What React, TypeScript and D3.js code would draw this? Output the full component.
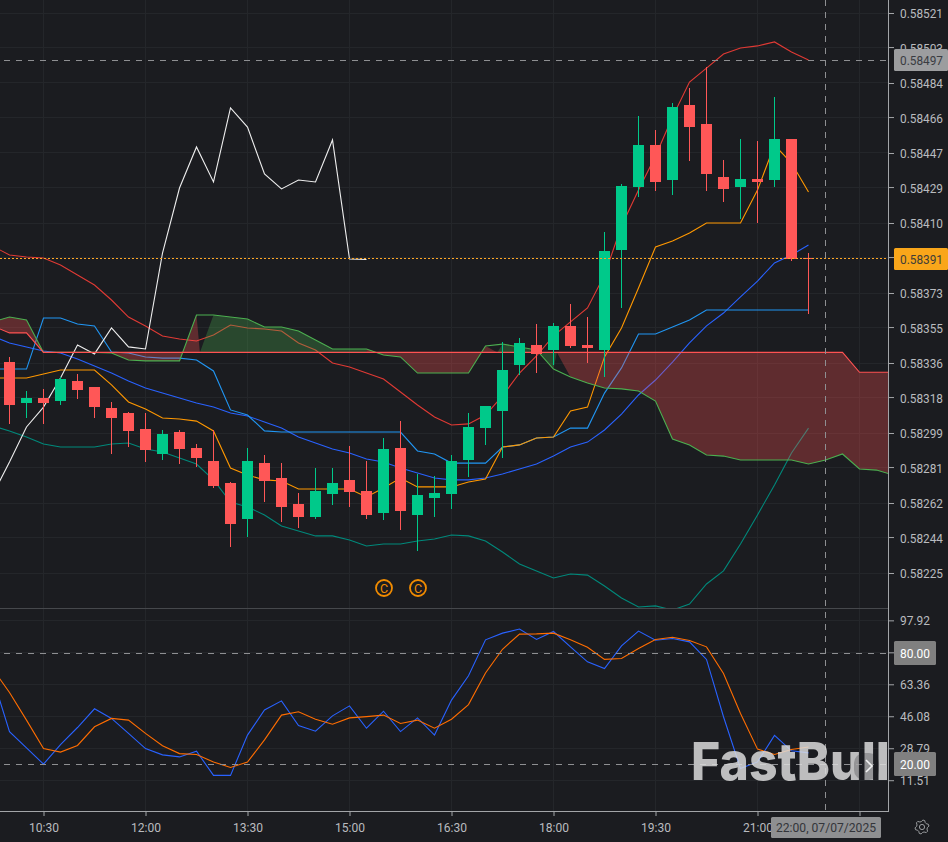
import React, { useEffect, useRef } from 'react';
import * as d3 from 'd3';

// 15 minute bars, 07/07/2025, first bar at 10:00
const opens = [0.583365,0.583149,0.583175,0.583159,0.583265,0.583233,0.583122,0.583096,0.583011,0.582879,0.582995,0.582911,0.582842,0.582726,0.582535,0.582831,0.582752,0.582615,0.582546,0.582668,0.582742,0.582683,0.582567,0.582911,0.582557,0.582646,0.582668,0.582847,0.583016,0.583106,0.583349,0.583455,0.583429,0.583556,0.583455,0.583429,0.583957,0.584290,0.584512,0.584327,0.584724,0.584623,0.584343,0.584290,0.584333,0.584327,0.584544,0.583915];
const highs = [0.583390,0.583210,0.583221,0.583284,0.583302,0.583233,0.583154,0.583101,0.583096,0.583006,0.583006,0.582932,0.583006,0.582731,0.582911,0.582874,0.582831,0.582673,0.582805,0.582805,0.582921,0.582842,0.582964,0.583053,0.582773,0.582763,0.582874,0.583096,0.583133,0.583471,0.583492,0.583566,0.583571,0.583672,0.583603,0.584052,0.584306,0.584666,0.584592,0.584734,0.584814,0.584925,0.584433,0.584544,0.584533,0.584766,0.584544,0.583941];
const lows = [0.583038,0.583069,0.583038,0.583138,0.583170,0.583069,0.582879,0.582916,0.582837,0.582847,0.582826,0.582810,0.582699,0.582387,0.582440,0.582625,0.582520,0.582488,0.582535,0.582609,0.582599,0.582535,0.582530,0.582477,0.582366,0.582546,0.582588,0.582757,0.582927,0.582858,0.583297,0.583307,0.583349,0.583439,0.583360,0.583286,0.583651,0.584237,0.584269,0.584248,0.584428,0.584269,0.584211,0.584121,0.584100,0.584290,0.583899,0.583619];
const closes = [0.583138,0.583175,0.583149,0.583275,0.583217,0.583127,0.583069,0.583001,0.582900,0.582985,0.582905,0.582858,0.582710,0.582509,0.582842,0.582736,0.582599,0.582546,0.582683,0.582726,0.582678,0.582557,0.582905,0.582578,0.582662,0.582673,0.582842,0.583022,0.583133,0.583323,0.583466,0.583408,0.583556,0.583450,0.583439,0.583952,0.584296,0.584512,0.584317,0.584713,0.584607,0.584359,0.584280,0.584333,0.584317,0.584544,0.583910,0.583910];

// overlays, first value is one bar before the first candle
const bbUpper = [0.583978,0.583931,0.583920,0.583915,0.583878,0.583825,0.583772,0.583693,0.583603,0.583556,0.583503,0.583487,0.583476,0.583508,0.583561,0.583545,0.583540,0.583529,0.583466,0.583429,0.583360,0.583339,0.583307,0.583275,0.583207,0.583138,0.583075,0.583032,0.583038,0.583085,0.583186,0.583307,0.583397,0.583503,0.583577,0.583651,0.583825,0.584084,0.584274,0.584454,0.584660,0.584845,0.584919,0.584993,0.585025,0.585036,0.585057,0.585004,0.584962];
const bbMiddle = [0.583503,0.583466,0.583445,0.583423,0.583413,0.583381,0.583344,0.583307,0.583265,0.583228,0.583201,0.583175,0.583149,0.583127,0.583096,0.583080,0.583048,0.583016,0.582969,0.582937,0.582905,0.582884,0.582853,0.582837,0.582805,0.582779,0.582752,0.582742,0.582742,0.582752,0.582773,0.582800,0.582826,0.582868,0.582916,0.582942,0.583006,0.583090,0.583191,0.583270,0.583365,0.583466,0.583556,0.583624,0.583709,0.583793,0.583889,0.583931,0.583984];
const bbLower = [0.583027,0.583001,0.582969,0.582932,0.582916,0.582916,0.582916,0.582932,0.582937,0.582905,0.582890,0.582858,0.582826,0.582742,0.582625,0.582599,0.582557,0.582498,0.582472,0.582446,0.582446,0.582424,0.582393,0.582403,0.582403,0.582419,0.582430,0.582451,0.582446,0.582419,0.582361,0.582298,0.582261,0.582224,0.582245,0.582239,0.582181,0.582118,0.582070,0.582076,0.582054,0.582086,0.582192,0.582261,0.582403,0.582557,0.582715,0.582884,0.583016];
const kijun = [0.583281,0.583281,0.583281,0.583302,0.583323,0.583323,0.583323,0.583244,0.583154,0.583117,0.583069,0.583064,0.583053,0.583001,0.582805,0.582768,0.582742,0.582736,0.582694,0.582694,0.582694,0.582694,0.582652,0.582699,0.582752,0.582705,0.582705,0.582705,0.582731,0.582747,0.582916,0.582927,0.582964,0.582969,0.583106,0.583127,0.583392,0.583545,0.583756,0.583973,0.584005,0.584047,0.584100,0.584100,0.584100,0.584274,0.584512,0.584417,0.584264];
const tenkan = [0.583328,0.583328,0.583328,0.583598,0.583598,0.583566,0.583556,0.583418,0.583413,0.583392,0.583386,0.583386,0.583376,0.583318,0.583112,0.583085,0.583001,0.582995,0.582995,0.582995,0.582995,0.582995,0.582995,0.582995,0.582995,0.582895,0.582879,0.582831,0.582831,0.582831,0.582916,0.582927,0.582964,0.582969,0.583016,0.583016,0.583201,0.583334,0.583513,0.583513,0.583550,0.583587,0.583640,0.583640,0.583640,0.583640,0.583640,0.583640,0.583640];
const chikou = [0.582662,0.582837,0.583022,0.583127,0.583281,0.583455,0.583408,0.583545,0.583445,0.583434,0.583941,0.584285,0.584502,0.584317,0.584708,0.584607,0.584359,0.584280,0.584327,0.584317,0.584539,0.583910,0.583907];
const senkouA = [0.583577,0.583603,0.583587,0.583416,0.583416,0.583416,0.583416,0.583413,0.583376,0.583371,0.583371,0.583371,0.583614,0.583614,0.583603,0.583593,0.583550,0.583550,0.583529,0.583482,0.583434,0.583434,0.583434,0.583402,0.583392,0.583307,0.583307,0.583307,0.583307,0.583450,0.583460,0.583445,0.583429,0.583328,0.583286,0.583254,0.583228,0.583223,0.583212,0.583159,0.582958,0.582927,0.582874,0.582868,0.582847,0.582847,0.582847,0.582847,0.582826,0.582847,0.582879,0.582800,0.582794,0.582768];
const senkouB = [0.583556,0.583519,0.583519,0.583416,0.583416,0.583416,0.583416,0.583416,0.583416,0.583416,0.583416,0.583416,0.583416,0.583416,0.583416,0.583416,0.583416,0.583416,0.583416,0.583416,0.583416,0.583416,0.583416,0.583416,0.583416,0.583416,0.583416,0.583416,0.583416,0.583416,0.583416,0.583416,0.583416,0.583416,0.583416,0.583416,0.583416,0.583416,0.583416,0.583416,0.583416,0.583416,0.583416,0.583416,0.583416,0.583416,0.583416,0.583416,0.583416,0.583416,0.583416,0.583311,0.583311,0.583311];

const stochK = [67.4,37.7,29.0,20.2,30.8,40.0,50.1,44.9,36.8,28.6,25.2,24.1,27.2,14.1,14.1,35.9,49.5,54.4,41.1,38.0,46.3,51.7,39.6,48.8,37.8,45.2,35.9,54.8,68.0,87.4,91.0,93.2,87.6,91.9,83.6,75.5,71.9,84.1,92.1,87.2,88.1,86.3,76.8,45.8,17.8,21.4,35.7,27.4,26.3];
const stochD = [71.9,58.9,44.0,28.6,26.7,30.3,40.4,44.9,44.0,36.8,30.1,25.9,25.4,21.4,18.4,21.3,33.3,46.7,48.5,44.5,41.8,45.2,45.9,46.7,42.2,44.0,39.6,44.5,52.4,69.5,82.3,90.5,90.6,91.0,87.4,83.4,76.8,77.3,82.7,87.6,88.8,87.0,83.6,69.2,47.6,28.3,25.4,28.1,29.5];

const priceTicks = [0.58521,0.58503,0.58484,0.58466,0.58447,0.58429,0.58410,0.58392,0.58373,0.58355,0.58336,0.58318,0.58299,0.58281,0.58262,0.58244,0.58225];
const stochTicks = [97.92,80.64,63.36,46.08,28.79,11.51];
const timeTicks = ['10:30','12:00','13:30','15:00','16:30','18:00','19:30','21:00','22:30'];
const hiddenTimeLabels = ['22:30']; // tick only, the crosshair label sits on it
const dividendBars = [22,24];
const stochLevels = [80,20];
const highPrice = 0.58496;
const highLabel = '0.58497';
const lastPrice = 0.58391;
const crosshairLabel = '22:00, 07/07/2025';

// the cloud polygons switch colour a little after the lines cross, as in the source chart
const cloudRuns = [
  { bull: false, a: [-1, 2], b: [-1, 2] },
  { bull: false, a: [6, 11], b: [6, 11.2] },
  { bull: true, a: [12, 21], b: [11.2, 21] },
  { bull: false, a: [21, 28], b: [21, 28.7] },
  { bull: true, a: [29, 32], b: [28.7, 32.2] },
  { bull: false, a: [33, 52], b: [32.2, 52] }
];

const WIDTH = 948;
const HEIGHT = 842;
const AXIS_X = 889;
const MAIN_BOTTOM = 608;
const LOWER_BOTTOM = 811;
const BG = '#1b1c20';
const GRID = '#24262a';
const AXIS = '#a3a5a8';
const TEXT = '#b9bbbf';
const UP = '#00c98a';
const DOWN = '#ff5757';
const FONT = 'Roboto, sans-serif';

const parseTime = d3.utcParse('%Y-%m-%d %H:%M');
const T0 = parseTime('2025-07-07 10:00') as Date;
const barTime = (i: number) => new Date(T0.getTime() + i * 15 * 60000);
const tickTime = (t: string) => parseTime('2025-07-07 ' + t) as Date;

const App = () => {
  const rootRef = useRef<SVGSVGElement>(null);

  useEffect(() => {
    const svg = d3.select(rootRef.current);
    svg.selectAll('*').remove();

    const x = d3.scaleUtc().domain([barTime(0), barTime(48)]).range([9.5, 825.5]);
    const xi = (i: number) => x(barTime(i));
    const y = d3.scaleLinear().domain([0.58225, 0.58521]).range([573, 13]);
    const yS = d3.scaleLinear().domain([20, 80]).range([764.5, 653.5]);
    const crisp = (v: number) => Math.floor(v) + 0.5;

    const defs = svg.append('defs');
    defs.append('clipPath').attr('id', 'main').append('rect').attr('width', AXIS_X).attr('height', MAIN_BOTTOM);
    defs.append('clipPath').attr('id', 'lower').append('rect').attr('y', MAIN_BOTTOM + 1).attr('width', AXIS_X).attr('height', LOWER_BOTTOM - MAIN_BOTTOM - 1);

    svg.append('rect').attr('width', WIDTH).attr('height', HEIGHT).attr('fill', BG);

    // grid
    const grid = svg.append('g').attr('stroke', GRID).attr('shape-rendering', 'crispEdges');
    priceTicks.forEach((p) => grid.append('line').attr('x1', 0).attr('x2', AXIS_X).attr('y1', crisp(y(p))).attr('y2', crisp(y(p))));
    stochTicks.forEach((p) => grid.append('line').attr('x1', 0).attr('x2', AXIS_X).attr('y1', crisp(yS(p))).attr('y2', crisp(yS(p))));
    timeTicks.forEach((t) => grid.append('line').attr('x1', x(tickTime(t))).attr('x2', x(tickTime(t))).attr('y1', 0).attr('y2', LOWER_BOTTOM));

    const main = svg.append('g').attr('clip-path', 'url(#main)');
    const lower = svg.append('g').attr('clip-path', 'url(#lower)');

    const priceLine = d3.line<number>().x((_, k) => xi(k - 1)).y((d) => y(d));
    const overlays: [number[], string][] = [
      [bbLower, '#00897b'],
      [bbUpper, '#e03a34'],
      [bbMiddle, '#2962ff'],
      [tenkan, '#2196f3'],
      [kijun, '#ff9800'],
      [chikou, '#eeeeee']
    ];
    overlays.forEach(([values, color]) => {
      main.append('path').attr('d', priceLine(values)).attr('fill', 'none').attr('stroke', color).attr('stroke-width', 1.1);
    });

    // cloud sits over the overlay lines
    const at = (arr: number[], i: number) => {
      const k = i + 1;
      const lo = Math.floor(k);
      const hi = Math.min(lo + 1, arr.length - 1);
      return arr[lo] + (arr[hi] - arr[lo]) * (k - lo);
    };
    const poly = d3.line<[number, number]>().x((d) => xi(d[0])).y((d) => y(d[1]));
    cloudRuns.forEach((run) => {
      const pts: [number, number][] = [];
      for (let i = run.a[0]; i <= run.a[1]; i++) pts.push([i, at(senkouA, i)]);
      pts.push([run.b[1], at(senkouB, run.b[1])]);
      for (let i = Math.floor(run.b[1]); i >= Math.ceil(run.b[0]); i--) pts.push([i, at(senkouB, i)]);
      pts.push([run.b[0], at(senkouB, run.b[0])]);
      main.append('path').attr('d', poly(pts) + 'Z').attr('fill-rule', 'evenodd')
        .attr('fill', run.bull ? '#4caf50' : '#ff5252').attr('fill-opacity', 0.3);
    });
    main.append('path').attr('d', priceLine(senkouA)).attr('fill', 'none').attr('stroke', '#4caf50').attr('stroke-width', 1.1);
    main.append('path').attr('d', priceLine(senkouB)).attr('fill', 'none').attr('stroke', '#ff5252').attr('stroke-width', 1.1);

    // candles
    const bars = main.append('g').attr('shape-rendering', 'crispEdges');
    opens.forEach((open, i) => {
      const color = closes[i] > open ? UP : DOWN;
      bars.append('line').attr('x1', xi(i)).attr('x2', xi(i)).attr('y1', Math.round(y(highs[i]))).attr('y2', Math.round(y(lows[i]))).attr('stroke', color);
      const top = Math.round(y(Math.max(open, closes[i])));
      const bottom = Math.round(y(Math.min(open, closes[i])));
      bars.append('rect').attr('x', xi(i) - 5.5).attr('width', 11).attr('y', top).attr('height', Math.max(1, bottom - top)).attr('fill', color);
    });

    main.append('line').attr('x1', 0).attr('x2', AXIS_X).attr('y1', crisp(y(lastPrice))).attr('y2', crisp(y(lastPrice)))
      .attr('stroke', '#ffa726').attr('stroke-dasharray', '2 2');

    const dashed = (g: d3.Selection<any, any, any, any>, x1: number, x2: number, y1: number, y2: number) =>
      g.append('line').attr('x1', x1).attr('x2', x2).attr('y1', y1).attr('y2', y2)
        .attr('stroke', '#8e8f92').attr('stroke-dasharray', '6 6');

    dashed(svg, 4, AXIS_X, crisp(y(highPrice)), crisp(y(highPrice)));

    // dividend markers
    dividendBars.forEach((i) => {
      const g = main.append('g').attr('transform', `translate(${xi(i) + 0.5},588)`);
      g.append('circle').attr('r', 8).attr('fill', 'none').attr('stroke', '#f28c00').attr('stroke-width', 1.8);
      g.append('text').text('C').attr('text-anchor', 'middle').attr('y', 4.5).attr('fill', '#f28c00')
        .attr('font-family', FONT).attr('font-size', 12.5);
    });

    // stochastic pane
    const stochLine = d3.line<number>().x((_, k) => xi(k - 1)).y((d) => yS(d));
    lower.append('path').attr('d', stochLine(stochK)).attr('fill', 'none').attr('stroke', '#2962ff').attr('stroke-width', 1.1);
    lower.append('path').attr('d', stochLine(stochD)).attr('fill', 'none').attr('stroke', '#ff6d00').attr('stroke-width', 1.1);
    stochLevels.forEach((l) => dashed(svg, 4, AXIS_X, crisp(yS(l)), crisp(yS(l))));

    dashed(svg, 825.5, 825.5, 0, LOWER_BOTTOM);

    // watermark
    svg.append('text').text('FastBull').attr('x', 691).attr('y', 780).attr('textLength', 199).attr('lengthAdjust', 'spacingAndGlyphs')
      .attr('font-family', 'Inter, sans-serif').attr('font-weight', 800).attr('font-size', 52)
      .attr('fill', '#dcdcdc').attr('fill-opacity', 0.84);
    svg.append('rect').attr('x', 854).attr('y', 753).attr('width', 25).attr('height', 27).attr('rx', 10).attr('fill', BG).attr('fill-opacity', 0.25);
    svg.append('path').attr('d', 'M866,760L872,766L866,772').attr('fill', 'none').attr('stroke', '#f2f2f2').attr('stroke-width', 1.6);

    // pane separators and axes
    svg.append('line').attr('x1', 0).attr('x2', AXIS_X).attr('y1', 608.5).attr('y2', 608.5).attr('stroke', '#46484c');
    svg.append('line').attr('x1', AXIS_X - 0.5).attr('x2', AXIS_X - 0.5).attr('y1', 0).attr('y2', LOWER_BOTTOM).attr('stroke', AXIS);
    svg.append('line').attr('x1', 0).attr('x2', AXIS_X).attr('y1', 811.5).attr('y2', 811.5).attr('stroke', AXIS);

    const styleAxis = (g: d3.Selection<any, any, any, any>) => {
      g.select('.domain').remove();
      g.selectAll('line').attr('stroke', AXIS);
      g.selectAll('text').attr('fill', TEXT).attr('font-family', FONT).attr('font-size', 13)
        .attr('lengthAdjust', 'spacingAndGlyphs')
        .attr('textLength', (d: any) => (typeof d === 'number' && d < 1 ? 43 : 30));
    };
    svg.append('g').attr('transform', `translate(${AXIS_X},0)`)
      .call(d3.axisRight(y).tickValues(priceTicks).tickSize(5).tickPadding(6).tickFormat((d) => (d as number).toFixed(5)))
      .call(styleAxis)
      .selectAll('text').attr('dy', '0.38em');
    svg.append('g').attr('transform', `translate(${AXIS_X},0)`)
      .call(d3.axisRight(yS).tickValues(stochTicks).tickSize(5).tickPadding(6).tickFormat((d) => (d as number).toFixed(2)))
      .call(styleAxis);
    svg.append('g').attr('transform', `translate(0,${LOWER_BOTTOM})`)
      .call(d3.axisBottom(x).tickValues(timeTicks.map(tickTime)).tickSize(5).tickPadding(7).tickFormat((d) => {
        const label = d3.utcFormat('%H:%M')(d as Date);
        return hiddenTimeLabels.includes(label) ? '' : label;
      }))
      .call(styleAxis);

    // value labels
    const label = (cy: number, boxWidth: number, boxHeight: number, fill: string, textFill: string, str: string) => {
      svg.append('rect').attr('x', 894).attr('y', cy - boxHeight / 2).attr('width', boxWidth).attr('height', boxHeight).attr('rx', 1.5).attr('fill', fill);
      svg.append('text').text(str).attr('x', 900).attr('y', cy + 4.6).attr('fill', textFill)
        .attr('font-family', FONT).attr('font-size', 13).attr('lengthAdjust', 'spacingAndGlyphs')
        .attr('textLength', str.length > 5 ? 43 : 30);
    };
    label(60, 54, 22, '#9c9d9f', '#3a3c42', highLabel);
    label(259, 54, 22, '#f9a61a', '#3f3d38', lastPrice.toFixed(5));
    stochLevels.forEach((l) => label(Math.floor(yS(l)), 42, 24, '#808080', '#ffffff', l.toFixed(2)));

    // crosshair time label
    svg.append('rect').attr('x', 771).attr('y', 817).attr('width', 110).attr('height', 21).attr('rx', 1.5).attr('fill', '#8e8f91');
    svg.append('text').text(crosshairLabel).attr('x', 776).attr('y', 832).attr('fill', '#33353a')
      .attr('font-family', FONT).attr('font-size', 13).attr('lengthAdjust', 'spacingAndGlyphs').attr('textLength', 100);

    // settings gear
    const radii = d3.range(24).map((k) => (k % 4 < 2 ? 7 : 5.4));
    const gear = d3.lineRadial<number>().angle((_, k) => ((k + 0.5) * Math.PI) / 12).radius((r) => r).curve(d3.curveLinearClosed);
    const gearG = svg.append('g').attr('transform', 'translate(922,827)').attr('fill', 'none').attr('stroke', '#9a9c9f').attr('stroke-width', 1);
    gearG.append('path').attr('d', gear(radii));
    gearG.append('circle').attr('r', 2.6);
  }, []);

  return <svg ref={rootRef} width={WIDTH} height={HEIGHT} style={{ position: 'absolute', left: 0, top: 0, display: 'block' }}></svg>;
};

export default App;
